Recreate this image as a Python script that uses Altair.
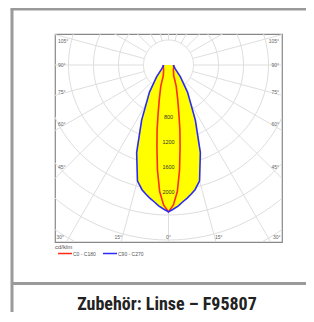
import altair as alt
import pandas as pd
import numpy as np

# ---- data ----
gamma = [0, 2, 4, 6, 8, 10, 12, 15, 20, 26, 35, 45, 60, 75, 90]
c0_c180 = [2350, 2240, 2030, 1690, 1330, 1050, 800, 570, 360, 190, 140, 110, 95, 85, 80]
c90_c270 = [2350, 2305, 2260, 2200, 2150, 2097, 2040, 1920, 1490, 980, 530, 270, 125, 90, 80]
series_names = ["C0 - C180", "C90 - C270"]
series_colors = ["#ff2a1a", "#2a2aff"]
ring_values = [400, 800, 1200, 1600, 2000, 2400, 2800, 3200, 3600, 4000]
ring_labels = [800, 1200, 1600, 2000]
spoke_angles = list(range(0, 360, 15))
side_angle_labels = [45, 60, 75, 90, 105]
bottom_angle_labels = [-30, -15, 0, 15, 30]
unit_text = "cd/klm"
title_text = "Zubehör: Linse – F95807"

XD = [-1816, 1816]
YD = [-2832, 496]
W, H = 227, 208
PX = 16  # cd per pixel
xs = alt.Scale(domain=XD)
ys = alt.Scale(domain=YD)

# curves: mirrored around 0 degrees
rows = []
for name, vals in zip(series_names, [c0_c180, c90_c270]):
    k = 0
    for g, v in zip(reversed(gamma), reversed(vals)):
        rows.append({"series": name, "g": -g, "I": v, "idx": k}); k += 1
    for g, v in zip(gamma[1:], vals[1:]):
        rows.append({"series": name, "g": g, "I": v, "idx": k}); k += 1
curves = pd.DataFrame(rows)

def polar(ch):
    return ch.transform_calculate(
        px="datum.I*sin(datum.g*PI/180)", py="-datum.I*cos(datum.g*PI/180)")

XQ = lambda f: alt.X(f, scale=xs, axis=None)
YQ = lambda f: alt.Y(f, scale=ys, axis=None)

# grid rings
ring_rows = []
for r in ring_values:
    for t in range(0, 361, 3):
        ring_rows.append({"I": r, "g": t, "ring": r})
rings = polar(alt.Chart(pd.DataFrame(ring_rows)).mark_line(
    clip=True, stroke="#dedede", strokeWidth=1)).encode(
    x=XQ("px:Q"), y=YQ("py:Q"), detail="ring:N", order="g:Q")

spokes = alt.Chart(pd.DataFrame({"g": spoke_angles})).transform_calculate(
    x1="400*sin(datum.g*PI/180)", y1="-400*cos(datum.g*PI/180)",
    x2="6000*sin(datum.g*PI/180)", y2="-6000*cos(datum.g*PI/180)",
).mark_rule(clip=True, stroke="#dedede", strokeWidth=1).encode(
    x=XQ("x1:Q"), y=YQ("y1:Q"), x2="x2:Q", y2="y2:Q")

fill = polar(alt.Chart(curves[curves.series == series_names[1]]).mark_line(
    fill="#ffff00", stroke="#ffff00", strokeWidth=0.5)).encode(
    x=XQ("px:Q"), y=YQ("py:Q"), order="idx:Q")

cscale = alt.Scale(domain=series_names, range=series_colors)
lines = polar(alt.Chart(curves).mark_line(strokeWidth=1.6)).encode(
    x=XQ("px:Q"), y=YQ("py:Q"), order="idx:Q",
    color=alt.Color("series:N", scale=cscale, legend=None))

ring_text = alt.Chart(pd.DataFrame({"r": ring_labels})).transform_calculate(
    x="0", y="-datum.r").mark_text(fontSize=5.5, color="#333", dy=2,
                                   font="Liberation Sans").encode(
    x=XQ("x:Q"), y=YQ("y:Q"), text="r:N")

side = pd.DataFrame({"g": side_angle_labels})
side["lab"] = side["g"].astype(str) + "°"
side_calc = "max(min(-0.9*1816/tan(datum.g*PI/180), 380), -2700)"
left_lab = alt.Chart(side).transform_calculate(x="-1770", y=side_calc).mark_text(
    fontSize=5, color="#666", align="left", font="Liberation Sans").encode(
    x=XQ("x:Q"), y=YQ("y:Q"), text="lab:N")
right_lab = alt.Chart(side).transform_calculate(x="1770", y=side_calc).mark_text(
    fontSize=5, color="#666", align="right", font="Liberation Sans").encode(
    x=XQ("x:Q"), y=YQ("y:Q"), text="lab:N")

bot = pd.DataFrame({"g": bottom_angle_labels})
bot["lab"] = bot["g"].abs().astype(str) + "°"
bottom_lab = alt.Chart(bot).transform_calculate(
    x="2832*tan(datum.g*PI/180)*1.06", y="-2750").mark_text(
    fontSize=5, color="#666", font="Liberation Sans").encode(
    x=XQ("x:Q"), y=YQ("y:Q"), text="lab:N")

# manual legend below the plot
leg = pd.DataFrame({"series": series_names, "i": list(range(len(series_names)))})
leg_base = alt.Chart(leg).transform_calculate(
    xa=f"{XD[0]} + {PX}*(3 + 45*datum.i)",
    xb=f"{XD[0]} + {PX}*(17 + 45*datum.i)",
    xt=f"{XD[0]} + {PX}*(18 + 45*datum.i)",
    yl=f"{YD[1]} - {PX}*219.5")
leg_lines = leg_base.mark_rule(strokeWidth=1.5).encode(
    x=XQ("xa:Q"), x2="xb:Q", y=YQ("yl:Q"),
    color=alt.Color("series:N", scale=cscale, legend=None))
leg_text = leg_base.mark_text(fontSize=5, color="#555", align="left",
                              font="Liberation Sans").encode(
    x=XQ("xt:Q"), y=YQ("yl:Q"), text="series:N")

one = alt.Data(values=[{}])
unit = alt.Chart(one).mark_text(text=unit_text, fontSize=6, color="#555", align="left",
                                font="Liberation Sans").encode(
    x=alt.value(0), y=alt.value(213))
frame_col = "#9a9a9a"
border_left = alt.Chart(one).mark_rule(color=frame_col, strokeWidth=3).encode(
    x=alt.value(-43), y=alt.value(-25), y2=alt.value(278))
border_top = alt.Chart(one).mark_rule(color=frame_col, strokeWidth=3).encode(
    x=alt.value(-44.5), x2=alt.value(259), y=alt.value(-25))
divider = alt.Chart(one).mark_rule(color=frame_col, strokeWidth=3).encode(
    x=alt.value(-43), x2=alt.value(259), y=alt.value(249.5))
title = alt.Chart(one).mark_text(text=title_text, fontSize=18, fontWeight="bold",
                                 font="Liberation Sans Narrow, Roboto Condensed, Roboto, sans-serif",
                                 color="#222", baseline="alphabetic").encode(
    x=alt.value(112), y=alt.value(275.5))

chart = alt.layer(rings, spokes, fill, lines, ring_text, left_lab, right_lab, bottom_lab,
                  leg_lines, leg_text, unit, border_left, border_top, divider, title).properties(
    width=W, height=H,
    autosize=alt.AutoSizeParams(type="none"),
    padding={"left": 47, "top": 26, "right": 24, "bottom": 70},
    background="white",
).configure_view(stroke="#888", strokeWidth=1.2)

chart.save("out.html", embed_options={"renderer": "svg", "actions": False})
